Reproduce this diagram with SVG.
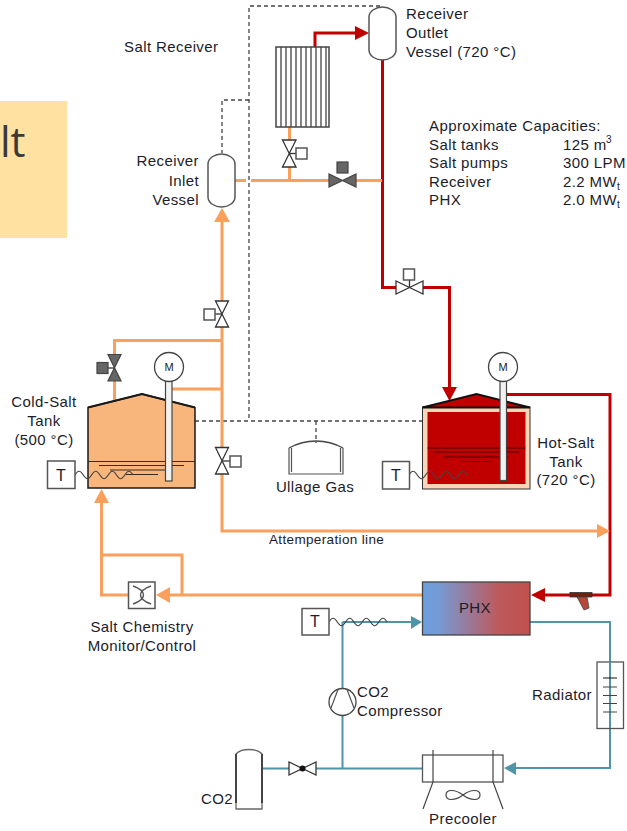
<svg xmlns="http://www.w3.org/2000/svg" width="627" height="831" viewBox="0 0 627 831">
<style>
text{font-family:"Liberation Sans",Arial,sans-serif;font-size:15px;fill:#1c1c2a;letter-spacing:.4px}
.m{text-anchor:middle}.e{text-anchor:end}
.o{fill:none;stroke:#f8a05c;stroke-width:3}
.r{fill:none;stroke:#c00000;stroke-width:3}
.t{fill:none;stroke:#4f94a8;stroke-width:2}
.d{fill:none;stroke:#444;stroke-width:1.3;stroke-dasharray:4 3}
.g{fill:#fff;stroke:#555;stroke-width:1.5}
.dk{fill:#666;stroke:#444;stroke-width:1.2}
.b{fill:none;stroke:#333;stroke-width:1.3}
.w{fill:none;stroke:#555;stroke-width:1.2}
</style>
<defs>
<linearGradient id="phxg" x1="0" x2="1" y1="0" y2="0"><stop offset="0" stop-color="#6c9fdf"/><stop offset=".15" stop-color="#769ad4"/><stop offset=".7" stop-color="#bd5a5e"/><stop offset="1" stop-color="#c0504d"/></linearGradient>
<path id="wave" d="M0 0c3-5 5-5 8.300 0s5 5 8.300 0 5-5 8.300 0 5 5 8.300 0 5-5 8.300 0 5 5 8.300 0 5-5 8.300 0" fill="none" stroke="#444" stroke-width="1.2"/>
</defs>
<g id="banner"><rect x="0" y="101" width="67" height="137" fill="#ffe2a1"/><text x="0" y="157" style="font-family:'Open Sans',sans-serif;font-size:42px;fill:#3a3a3c;letter-spacing:0">lt</text></g>

<g id="connectors">
<path class="d" d="M380 6H249V421M249 100H222V153"/>
<path class="d" d="M195 421H423M316 421V443"/>
<path class="r" d="M315 47V33H358"/><path d="M369 33L355 26V40Z" fill="#c00000"/>
<path class="r" d="M382.500 60V287.500H396M423 287.500H449.500V388"/><path d="M449.500 401L442 387H457Z" fill="#c00000"/>
<path class="r" d="M506 394.500H610V595H544"/><path d="M531 595L545 588V602Z" fill="#c00000"/>
<path class="o" d="M289.500 127V140M289.500 167V180.500M235 180.500H246M251 180.500H329M356 180.500H382"/>
<path class="o" d="M222 222V301M222 327V447M222 474V531H598"/>
<path d="M222 208L214 222H230Z" fill="#f8a05c"/><path d="M610 531L597 524V538Z" fill="#f8a05c"/>
<path class="o" d="M222 340.500H114.500V354M114.500 381V401M172 389H222"/>
<path class="o" d="M101.500 503V595H128M101.500 555H182V595M170 595H422"/>
<path d="M101.500 489L94 503H109Z" fill="#f8a05c"/><path d="M156 595L170 587V603Z" fill="#f8a05c"/>
<path class="t" d="M342.500 622H412M530 622H610V768H516M503 768.500H262M342.500 622V688M342.500 716V768"/>
<path d="M422 622L411 616V629Z" fill="#4f94a8"/><path d="M504 768L516 762V775Z" fill="#4f94a8"/>
</g>

<g id="receiver-outlet-vessel"><path class="g" d="M369 17C369 11 376 7 382.500 7S396 11 396 17V50C396 56 389 60 382.500 60S369 56 369 50Z"/><text x="406" y="19">Receiver</text><text x="406" y="38">Outlet</text><text x="406" y="57">Vessel (720 °C)</text></g>
<g id="receiver-inlet-vessel"><path class="g" d="M208 164C208 158 215 154 221.500 154S235 158 235 164V197C235 203 228 207 221.500 207S208 203 208 197Z"/><text class="e" x="199" y="166">Receiver</text><text class="e" x="199" y="186">Inlet</text><text class="e" x="199" y="205">Vessel</text></g>
<g id="salt-receiver"><text x="124" y="52">Salt Receiver</text>
<rect x="276" y="47" width="53" height="80" fill="#fff" stroke="#444" stroke-width="1.5"/>
<path d="M281 47V127M286 47V127M291 47V127M296 47V127M301 47V127M306 47V127M311 47V127M316 47V127M321 47V127M326 47V127" stroke="#444" stroke-width="1.300" fill="none"/></g>

<g id="valve-receiver"><path class="b" d="M282.500 140H296L282.500 167H296Z" style="fill:#fff"/><path class="b" d="M289.500 153.500H297"/><rect class="g" x="296" y="148" width="11" height="11"/></g>
<g id="valve-control"><path class="dk" d="M329 174V187L356 174V187Z"/><path class="b" d="M342.500 173V168"/><rect class="dk" x="337" y="162" width="11" height="11"/></g>
<g id="valve-hot"><path class="b" d="M396 281V294L423 281V294Z" style="fill:#fff"/><path class="b" d="M409.500 287.500V280"/><rect class="g" x="403.500" y="269" width="11" height="11"/></g>
<g id="valve-cold-upper"><path class="b" d="M215.500 301H228.500L215.500 327H228.500Z" style="fill:#fff"/><path class="b" d="M222 314H215"/><rect class="g" x="204" y="309" width="11" height="11"/></g>
<g id="valve-cold-drain"><path class="b" d="M215.500 447.500H228.500L215.500 474H228.500Z" style="fill:#fff"/><path class="b" d="M222 461H230"/><rect class="g" x="230" y="456" width="11" height="11"/></g>
<g id="valve-cold-tank"><path class="dk" d="M108 354.500H121L108 381H121Z"/><path class="b" d="M114.500 368H108"/><rect class="dk" x="97" y="362.500" width="11" height="11"/></g>

<g id="capacities">
<text x="429" y="131">Approximate Capacities:</text>
<text x="429" y="150">Salt tanks</text><text x="563" y="150">125 m</text><text x="606" y="143" style="font-size:10px">3</text>
<text x="429" y="168">Salt pumps</text><text x="563" y="168">300 LPM</text>
<text x="429" y="187">Receiver</text><text x="563" y="187">2.2 MW</text><text x="617" y="190" style="font-size:10px">t</text>
<text x="429" y="205">PHX</text><text x="563" y="205">2.0 MW</text><text x="617" y="208" style="font-size:10px">t</text>
</g>

<g id="cold-tank"><text class="m" x="44" y="407">Cold-Salt</text><text class="m" x="44" y="426">Tank</text><text class="m" x="44" y="445">(500 °C)</text>
<path d="M88 407.500L142 394L195 407.500V488H88Z" fill="#f9b67c" stroke="#1a1a1a" stroke-width="1.5"/>
<path d="M88 407.500L142 394L195 407.500" fill="none" stroke="#1a1a1a" stroke-width="2"/>
<path d="M88 461.500H195M99 465.500H184M110 470H165M126 474.500H158" stroke="#3a2a1a" stroke-width="1.2" fill="none"/>
<rect x="165.500" y="381" width="6.500" height="100" fill="#f2f2f2" stroke="#444" stroke-width="1.2"/>
<circle cx="169" cy="367" r="14.500" fill="#fff" stroke="#444" stroke-width="1.3"/><text class="m" x="169" y="371" style="font-size:11px;letter-spacing:0">M</text>
<use href="#wave" x="75" y="475"/>
<rect x="47.500" y="461" width="27.500" height="27.500" class="g"/><text class="m" x="61" y="481" style="font-size:16px">T</text></g>

<g id="hot-tank"><text class="m" x="566" y="448">Hot-Salt</text><text class="m" x="566" y="467">Tank</text><text class="m" x="566" y="485">(720 °C)</text>
<rect x="422.500" y="407" width="107.500" height="82" fill="#fbd5b5" stroke="#333" stroke-width="1"/>
<rect x="427.500" y="412" width="98" height="72" fill="#c00000"/>
<path d="M422.500 407.500L476.500 394L530 407.500Z" fill="#c00000" stroke="#111" stroke-width="2"/>
<path d="M427.500 448H525.500M433.500 452H519M444 457H508M460 461.500H492" stroke="#4a0000" stroke-width="1.2" fill="none"/>
<rect x="500" y="381" width="6.500" height="99.500" fill="#f2f2f2" stroke="#444" stroke-width="1.2"/>
<circle cx="503" cy="367" r="14.500" fill="#fff" stroke="#444" stroke-width="1.3"/><text class="m" x="503" y="371" style="font-size:11px;letter-spacing:0">M</text>
<use href="#wave" x="409" y="475"/>
<rect x="382.500" y="461.500" width="27" height="27.500" class="g"/><text class="m" x="396" y="481" style="font-size:16px">T</text></g>

<g id="ullage-gas"><path d="M289 448C300 442 308 441 316 441S332 442 343 448" fill="none" stroke="#444" stroke-width="1.3"/><path d="M289 448V474H343V448M291.500 448V472M340.500 448V472" fill="none" stroke="#555" stroke-width="1.2"/><text class="m" x="315" y="492">Ullage Gas</text></g>
<g id="attemperation-label"><text x="269" y="544" style="font-size:13.500px;letter-spacing:.35px">Attemperation line</text></g>

<g id="salt-chemistry"><rect class="g" x="128.500" y="582" width="26.500" height="26.500"/><path d="M133 586C147 591 147 599 133 604M151 586C137 591 137 599 151 604" fill="none" stroke="#555" stroke-width="1.4"/><text class="m" x="142" y="632">Salt Chemistry</text><text class="m" x="142" y="651">Monitor/Control</text></g>

<g id="phx"><rect x="422.500" y="582" width="107.500" height="53" fill="url(#phxg)" stroke="#444" stroke-width="1.3"/><text class="m" x="475" y="613">PHX</text></g>
<g id="flow-sensor"><rect x="570" y="592.500" width="22" height="4.500" fill="#7a1a10" stroke="#333" stroke-width=".8"/><path d="M577 597H587L589 608L584 610Z" fill="#b5483a" stroke="#444" stroke-width=".8"/></g>
<g id="t-co2"><use href="#wave" x="329" y="622"/><rect class="g" x="302" y="608.500" width="27" height="26.500"/><text class="m" x="315" y="627" style="font-size:16px">T</text></g>
<g id="compressor"><circle cx="342.500" cy="702" r="13.500" fill="#fff" stroke="#444" stroke-width="1.3"/><path d="M338 689.500L331 708M347 689.500L354 708" class="w"/><text x="357" y="697">CO2</text><text x="357" y="716">Compressor</text></g>
<g id="radiator"><text class="e" x="592" y="700">Radiator</text><rect x="597" y="662" width="26.500" height="66.500" fill="#fff" stroke="#555" stroke-width="1.3"/><path class="t" d="M610 662V728"/><path d="M603 678H617" stroke="#111" stroke-width="1"/><path d="M603 687H617M603 695.500H617M603 703.500H617M603 712H617" stroke="#444" stroke-width="1"/></g>
<g id="precooler"><rect x="422.500" y="755" width="80.500" height="27" fill="#fff" stroke="#555" stroke-width="1.3"/><path d="M433 750V782L423 809M493 750V782L503 809" fill="none" stroke="#444" stroke-width="1.2"/><path d="M463 795C455 789 446 789 446 795S455 801 463 795S480 789 480 795S471 801 463 795Z" fill="none" stroke="#444" stroke-width="1.2"/><text class="m" x="463" y="824">Precooler</text></g>
<g id="co2-valve"><path class="b" d="M289 762V775L316 762V775Z" style="fill:#fff"/><circle cx="302.500" cy="768.500" r="3" fill="#111"/></g>
<g id="co2-tank"><path d="M236 809V754C241 748 257 748 262 754V809Z" fill="#fff" stroke="#666" stroke-width="1.3"/><path d="M236 754V803M262 754V803" stroke="#444" stroke-width="2" fill="none"/><text x="201" y="804">CO2</text></g>
</svg>
